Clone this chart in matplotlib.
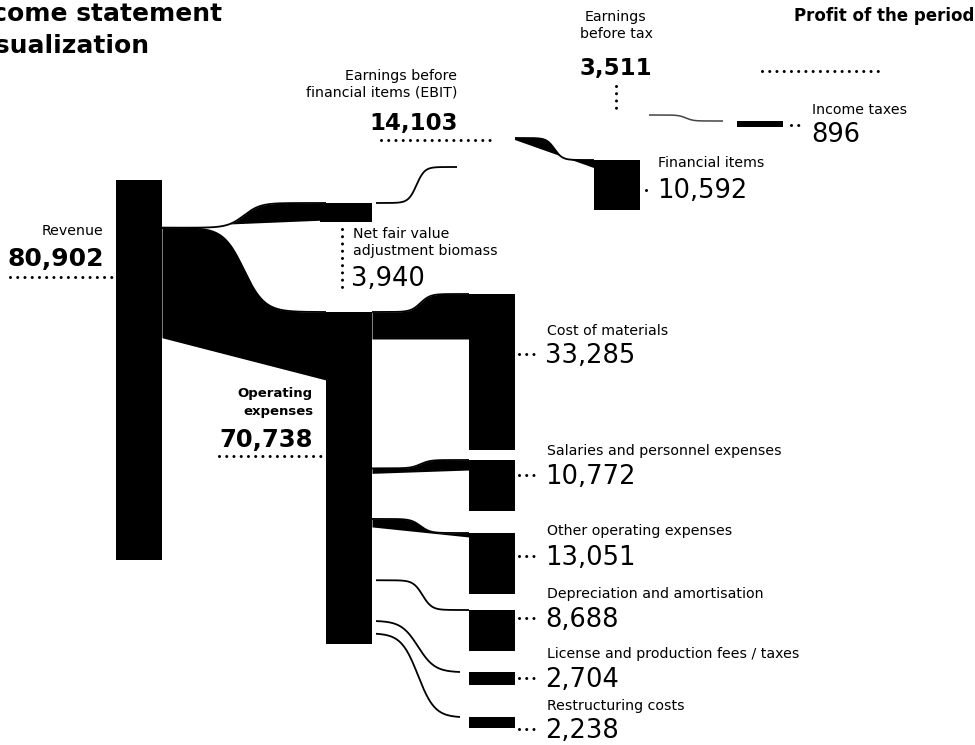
import numpy as np
import matplotlib.pyplot as plt

plt.rcParams['font.family'] = ['DejaVu Sans']
plt.rcParams['lines.scale_dashes'] = False

# ---------------------------------------------------------------------
# Data (thousands)
revenue = 80902
operating_expenses = 70738
fair_value_adjustment = 3940
ebit = 14103
financial_items = 10592
earnings_before_tax = 3511
income_taxes = 896

expense_names = ["Cost of materials", "Salaries and personnel expenses",
                 "Other operating expenses", "Depreciation and amortisation",
                 "License and production fees / taxes", "Restructuring costs"]
expense_values = [33285, 10772, 13051, 8688, 2704, 2238]

# ---------------------------------------------------------------------
# Layout (pixel space, y pointing down)
PX = 380 / 80902          # px per unit
COL_X = [116, 326, 469, 594, 737]
BAR_W = 46
TOP = {"revenue": 180, "opex": 312, "nfv": 203, "ebit": 138, "ebit_in": 167,
       "fin": 160, "ebt": 115, "tax": 121}
EXP_TOP = [294, 460, 533, 610, 672, 717]
# per expense link: bottom offsets at source/target (None = line only), steepness, x pads
EXP_STYLE = [(27, 45, 10, 0, 0), (5, 10, 10, 0, 0), (8, 4, 10, 0, 0),
             (None, None, 10, 4, 0), (None, None, 5, 4, -9), (None, None, 5, 4, -9)]

fig = plt.figure(figsize=(9.75, 7.45), dpi=100)
ax = fig.add_axes([0, 0, 1, 1])
ax.set_xlim(0, 975)
ax.set_ylim(745, 0)
ax.axis('off')


def sig(t, k):
    s = np.tanh(k * (t - 0.5))
    return (s - s[0]) / (s[-1] - s[0])


def ribbon(x0, x1, y0, y1, b0=None, b1=None, k=8, lw=1.3, color='black'):
    """top edge as an S curve, filled down to a straight lower edge"""
    x = np.linspace(x0, x1, 400)
    t = (x - x0) / (x1 - x0)
    top = y0 + (y1 - y0) * sig(t, k)
    ax.plot(x, top, color=color, lw=lw, solid_capstyle='butt')
    if b0 is not None:
        bot = (y0 + b0) + ((y1 + b1) - (y0 + b0)) * t
        ax.fill_between(x, top, bot, where=bot > top, interpolate=True,
                        color=color, lw=0)


def bar(col, top, value, width=BAR_W, dx=0):
    ax.add_patch(plt.Rectangle((COL_X[col] + dx, top), width, value * PX,
                               color='black', lw=0))


def dots(xs, ys):
    ax.plot(xs, ys, color='black', lw=2.2, linestyle=(0, (0.01, 5.2)),
            dash_capstyle='round')


# ---------------------------------------------------------------------
# Flows
rev_right = COL_X[0] + BAR_W
rev_split = TOP["revenue"] + (revenue - operating_expenses) * PX
# Revenue -> EBIT
ribbon(rev_right, COL_X[1], rev_split, TOP["nfv"], b0=-1, b1=17, k=10)
ribbon(COL_X[1] + BAR_W + 4, COL_X[2] - 12, TOP["nfv"], TOP["ebit_in"], k=10)
# Revenue -> Operating expenses
ribbon(rev_right, COL_X[1], rev_split, TOP["opex"], b0=110, b1=68, k=8)

# Operating expenses -> cost items
offs = TOP["opex"] + np.concatenate([[0], np.cumsum(expense_values)[:-1]]) * PX
for ys, yt, (b0, b1, k, p0, p1) in zip(offs, EXP_TOP, EXP_STYLE):
    ribbon(COL_X[1] + BAR_W + p0, COL_X[2] + p1, ys, yt, b0=b0, b1=b1, k=k)

# EBIT -> financial items, EBT -> income taxes
ribbon(COL_X[2] + BAR_W, COL_X[3], TOP["ebit"], TOP["fin"], b0=2, b1=8, k=10)
ribbon(COL_X[3] + BAR_W + 9, COL_X[4] - 14, TOP["ebt"], TOP["tax"], k=10,
       lw=1.1, color='#444444')

# ---------------------------------------------------------------------
# Nodes
bar(0, TOP["revenue"], revenue)
bar(1, TOP["opex"], operating_expenses)
bar(1, TOP["nfv"], fair_value_adjustment, width=52, dx=-6)
bar(3, TOP["fin"], financial_items)
bar(4, TOP["tax"], income_taxes * 1.4)
for top, v in zip(EXP_TOP, expense_values):
    bar(2, top, v)

# ---------------------------------------------------------------------
# Labels
fmt = lambda v: f"{v:,}"
small = dict(fontsize=10.2, color='black')
big = dict(fontsize=18.5, color='black')
heavy = dict(fontsize=16.5, color='black', fontweight='bold')

ax.text(222, 21, "Income statement", ha='right', fontsize=18,
        fontweight='bold')
ax.text(150, 53, "visualization", ha='right', fontsize=18,
        fontweight='bold')
ax.text(974, 21, "Profit of the period", ha='right', fontsize=12,
        fontweight='bold')
dots([762, 882], [71, 71])

ax.text(616, 21, "Earnings", ha='center', **small)
ax.text(616, 38, "before tax", ha='center', **small)
ax.text(616, 75, fmt(earnings_before_tax), ha='center', **heavy)
dots([616, 616], [86, 110])

ax.text(457, 80, "Earnings before", ha='right', **small)
ax.text(457, 97, "financial items (EBIT)", ha='right', **small)
ax.text(458, 130, fmt(ebit), ha='right', **heavy)
dots([381, 492], [140, 140])

ax.text(103, 235, "Revenue", ha='right', **small)
ax.text(104, 266, fmt(revenue), ha='right', fontsize=18, fontweight='bold')
dots([10, 114], [277, 277])

ax.text(353, 238, "Net fair value", ha='left', **small)
ax.text(353, 255, "adjustment biomass", ha='left', **small)
ax.text(351, 286, fmt(fair_value_adjustment), ha='left', **big)
dots([342, 342], [229, 288])

ax.text(313, 397, "Operating", ha='right', fontsize=9.5, fontweight='bold')
ax.text(313, 415, "expenses", ha='right', fontsize=9.5, fontweight='bold')
ax.text(313, 447, fmt(operating_expenses), ha='right', fontsize=17.5,
        fontweight='bold')
dots([219, 324], [456, 456])

ax.text(658, 167, "Financial items", ha='left', **small)
ax.text(657, 198, fmt(financial_items), ha='left', **big)
dots([646, 652], [190, 190])

ax.text(812, 114, "Income taxes", ha='left', **small)
ax.text(811, 142, fmt(income_taxes), ha='left', **big)
dots([791, 799], [125, 125])

LABEL_Y = [335, 455, 535, 598, 658, 710]
VALUE_Y = [363, 484, 565, 627, 687, 738]
for name, v, ly, vy in zip(expense_names, expense_values, LABEL_Y, VALUE_Y):
    ax.text(547, ly, name, ha='left', **small)
    ax.text(545, vy, fmt(v), ha='left', **big)
    dots([519, 534], [vy - 9, vy - 9])

fig.savefig("out.png", dpi=100, facecolor='white')
